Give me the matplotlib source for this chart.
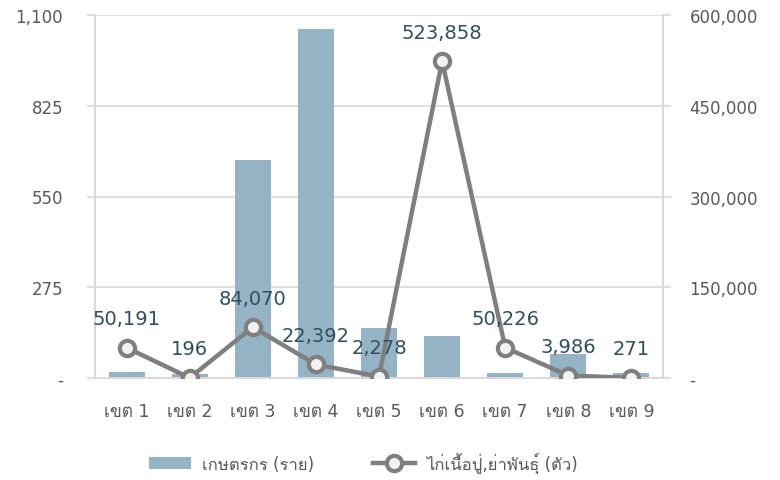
#!/usr/bin/env python3
import matplotlib
matplotlib.use("Agg")
import matplotlib.pyplot as plt
from matplotlib import font_manager
from matplotlib.ticker import FuncFormatter
from fontTools.ttLib import TTFont

# Data
districts = ["เขต 1", "เขต 2", "เขต 3", "เขต 4", "เขต 5", "เขต 6", "เขต 7", "เขต 8", "เขต 9"]
farmers = [18, 13, 660, 1057, 151, 126, 16, 74, 16]
chickens = [50191, 196, 84070, 22392, 2278, 523858, 50226, 3986, 271]
bar_label = "เกษตรกร (ราย)"
line_label = "ไก่เนื้อปู่,ย่าพันธุ์ (ตัว)"
left_ticks = [0, 275, 550, 825, 1100]
right_ticks = [0, 150000, 300000, 450000, 600000]


def find_thai_family():
    # look for any installed font that carries Thai glyphs
    for f in font_manager.fontManager.ttflist:
        try:
            fnt = TTFont(f.fname, fontNumber=0, lazy=True)
            cmap = fnt.getBestCmap()
            if cmap and 0x0E40 in cmap and 0x0E01 in cmap:
                return f.name
        except Exception:
            continue
    return None


thai = find_thai_family()
families = ["DejaVu Sans"] + ([thai] if thai else [])
plt.rcParams["font.family"] = families

W, H, dpi = 780, 481, 100
fig = plt.figure(figsize=(W / dpi, H / dpi), dpi=dpi)
ax = fig.add_axes([95 / W, (H - 379) / H, (663 - 95) / W, (379 - 16) / H])
ax2 = ax.twinx()

grid_col = "#d9d9d9"
tick_col = "#595959"
bar_col = "#94b4c5"
line_col = "#7f7f7f"
lab_col = "#2f4f5f"

x = list(range(len(districts)))
bars = ax.bar(x, farmers, width=0.57, color=bar_col, label=bar_label, zorder=2)
ax.set_ylim(0, 1100)
ax.set_yticks(left_ticks)
ax.set_xlim(-0.5, len(districts) - 0.5)
ax.yaxis.grid(True, color=grid_col, linewidth=1.2, zorder=0)
ax.set_axisbelow(True)


def fmt(v, pos=None):
    return "-" if v == 0 else f"{int(v):,}"


ax.yaxis.set_major_formatter(FuncFormatter(fmt))
ax.set_xticks(x)
ax.set_xticklabels(districts)

line, = ax2.plot(x, chickens, color=line_col, linewidth=3.2, marker="o",
                 markersize=11, markerfacecolor="#f2f2f2", markeredgecolor=line_col,
                 markeredgewidth=3, label=line_label, zorder=3)
ax2.set_ylim(0, 600000)
ax2.set_yticks(right_ticks)
ax2.yaxis.set_major_formatter(FuncFormatter(fmt))

for xi, v in zip(x, chickens):
    ax2.annotate(f"{v:,}", (xi, v), xytext=(0, 14), textcoords="offset points",
                 ha="center", va="bottom", fontsize=14, color=lab_col)

for a in (ax, ax2):
    a.spines["top"].set_visible(False)
    for s in ("left", "right", "bottom"):
        a.spines[s].set_color(grid_col)
        a.spines[s].set_linewidth(1.2)
    a.tick_params(axis="x", length=0, labelsize=12.5, labelcolor=tick_col, pad=17)
ax.tick_params(axis="y", colors=grid_col, labelcolor=tick_col, labelsize=12,
               length=6, width=1.2, pad=17)
ax2.tick_params(axis="y", colors=grid_col, labelcolor=tick_col, labelsize=12,
                length=6, width=1.2, pad=13)

fig.legend([bars, line], [bar_label, line_label], loc="center", ncol=2,
           bbox_to_anchor=(0.466, 0.037), frameon=False, fontsize=12,
           labelcolor=tick_col, handlelength=2.5, columnspacing=3.5,
           handletextpad=0.7)

fig.savefig("out.png", dpi=dpi)
